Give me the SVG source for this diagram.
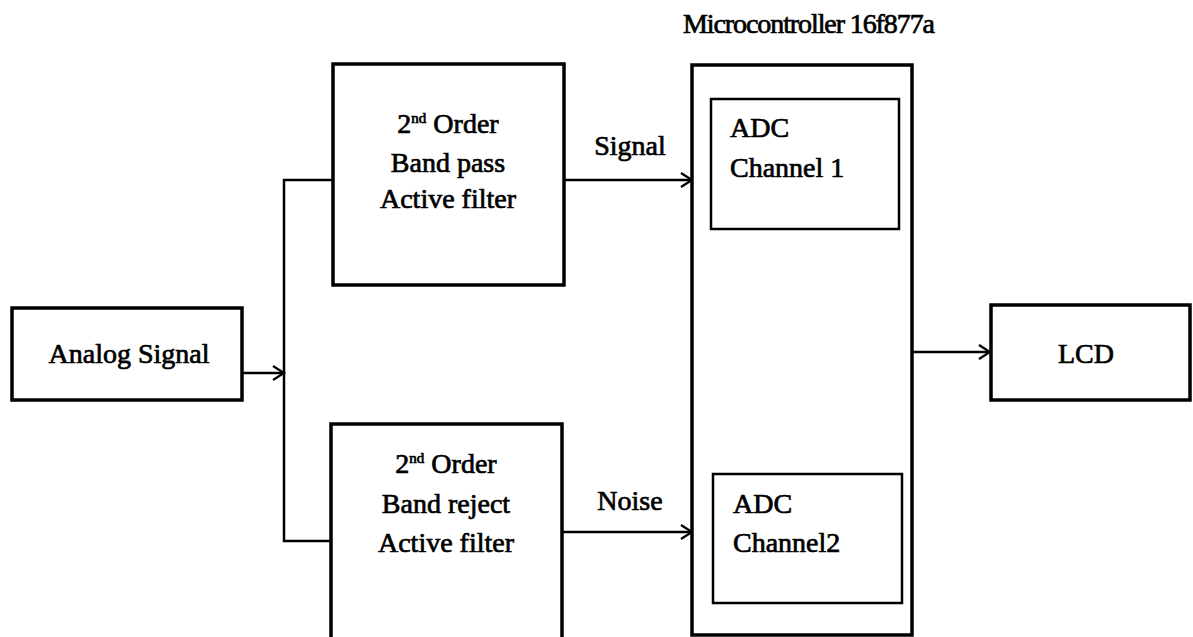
<svg xmlns="http://www.w3.org/2000/svg" width="1193" height="637" viewBox="0 0 1193 637">
<defs>
<style>
.box{fill:#fff;stroke:#000;stroke-width:3.5}
.inner{fill:#fff;stroke:#000;stroke-width:2.5}
.t{font-family:"Liberation Serif","Times New Roman",serif;font-size:28px;fill:#000;stroke:#000;stroke-width:0.7}
.c{text-anchor:middle}
.wire{fill:none;stroke:#000;stroke-width:2.5}
</style>
<marker id="arr" markerWidth="16" markerHeight="16" refX="13" refY="8" orient="auto" markerUnits="userSpaceOnUse">
<path d="M2,1 L13,8 L2,15" fill="none" stroke="#000" stroke-width="2.2"/>
</marker>
</defs>
<rect width="1193" height="637" fill="#fff"/>
<g id="connectors">
<line class="wire" x1="242" y1="373" x2="284" y2="373" marker-end="url(#arr)"/>
<polyline class="wire" points="333,180 284,180 284,541 331,541"/>
<line class="wire" x1="564" y1="180" x2="692" y2="180" marker-end="url(#arr)"/>
<line class="wire" x1="561" y1="532" x2="692" y2="532" marker-end="url(#arr)"/>
<line class="wire" x1="912" y1="352" x2="990" y2="352" marker-end="url(#arr)"/>
<text class="t c" x="630" y="155">Signal</text>
<text class="t c" x="630" y="510">Noise</text>
</g>
<g id="analog">
<rect class="box" x="12" y="308" width="230" height="92"/>
<text class="t c" x="129" y="363">Analog Signal</text>
</g>
<g id="bandpass">
<rect class="box" x="333" y="64" width="231" height="221"/>
<text class="t c" x="448" y="133">2<tspan font-size="15" dy="-10">nd</tspan><tspan dy="10"> Order</tspan></text>
<text class="t c" x="448" y="172">Band pass</text>
<text class="t c" x="448" y="208">Active filter</text>
</g>
<g id="bandreject">
<rect class="box" x="331" y="424" width="231" height="220"/>
<text class="t c" x="446" y="473">2<tspan font-size="15" dy="-10">nd</tspan><tspan dy="10"> Order</tspan></text>
<text class="t c" x="446" y="513">Band reject</text>
<text class="t c" x="446" y="552">Active filter</text>
</g>
<g id="microcontroller">
<rect class="box" x="692" y="65" width="220" height="570"/>
<text class="t" x="683" y="33" font-size="24" textLength="252">Microcontroller  16f877a</text>
</g>
<g id="adc1">
<rect class="inner" x="711" y="99" width="188" height="130"/>
<text class="t" x="730" y="137">ADC</text>
<text class="t" x="730" y="177">Channel 1</text>
</g>
<g id="adc2">
<rect class="inner" x="713" y="474" width="189" height="129"/>
<text class="t" x="733" y="513">ADC</text>
<text class="t" x="733" y="552">Channel2</text>
</g>
<g id="lcd">
<rect class="box" x="991" y="305" width="199" height="95"/>
<text class="t c" x="1086" y="363">LCD</text>
</g>
</svg>
